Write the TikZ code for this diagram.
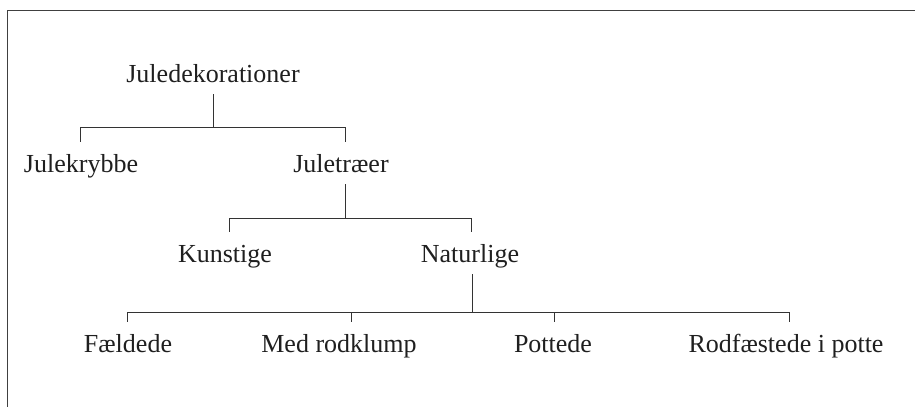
\documentclass[tikz,border=0pt]{standalone}
\usepackage{fontspec}
\setmainfont{Liberation Serif}
\usetikzlibrary{calc}

\begin{document}
\begin{tikzpicture}[x=1pt,y=1pt,
    every node/.style={font=\fontsize{26}{30}\selectfont,text=black!88,anchor=base,
      text height=22pt,text depth=4pt,inner xsep=0pt,inner ysep=8pt},
    branch/.style={draw=black!80,line width=1pt}]
  \useasboundingbox (0,0) rectangle (915,-407);
  % frame
  \draw[black!75,line width=1.3pt] (915,-10.7) -| (7.3,-407);
  % levels
  \node (jul) at (213,-82) {Juledekorationer};
  \node (krybbe) at (81,-172) {Julekrybbe};
  \node (trae) at (341,-172) {Juletræer};
  \node (kunst) at (225,-262) {Kunstige};
  \node (natur) at (470,-262) {Naturlige};
  \node (faeld) at (128,-352) {Fældede};
  \node (med) at (339,-352) {Med rodklump};
  \node (pott) at (553,-352) {Pottede};
  \node (rodf) at (786,-352) {Rodfæstede i potte};
  % connectors
  \draw[branch] (jul.south) -- ++(0,-33) coordinate (b1);
  \draw[branch] ([xshift=-1pt]krybbe.north) |- (b1) -| ([xshift=4pt]trae.north);
  \draw[branch] ([xshift=4pt]trae.south) -- ++(0,-34) coordinate (b2);
  \draw[branch] ([xshift=4pt]kunst.north) |- (b2) -| ([xshift=1pt]natur.north);
  \draw[branch] ([xshift=2pt]natur.south) -- ++(0,-38) coordinate (b3);
  \draw[branch] ([xshift=-1pt]faeld.north) |- (b3) -| ([xshift=3pt]rodf.north);
  \draw[branch] ([xshift=12pt]med.north) -- ([xshift=12pt]med.north |- b3);
  \draw[branch] ([xshift=1pt]pott.north) -- ([xshift=1pt]pott.north |- b3);
\end{tikzpicture}
\end{document}
